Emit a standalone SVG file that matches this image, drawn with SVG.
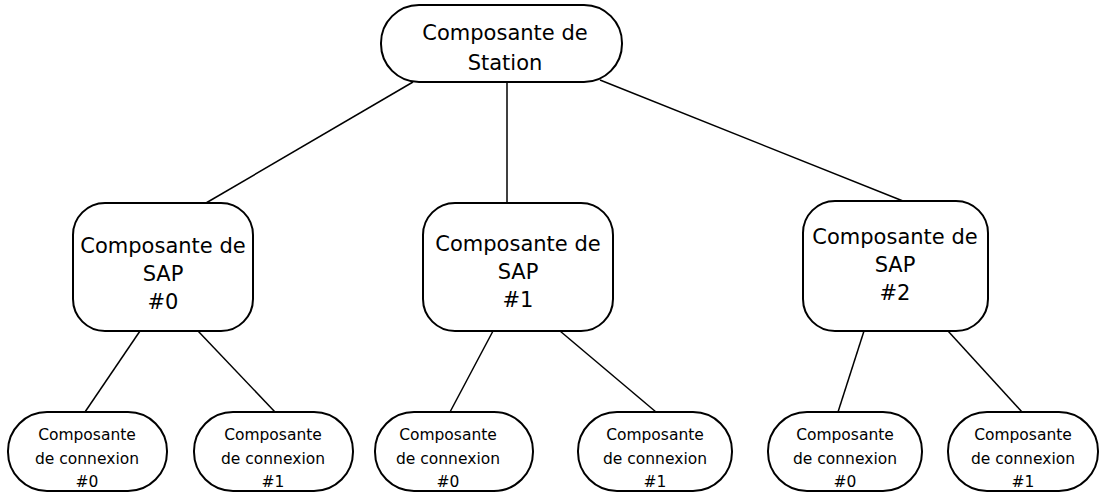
<svg xmlns="http://www.w3.org/2000/svg" width="1101" height="493" viewBox="0 0 1101 493">
  <style>
    .box { fill: #ffffff; stroke: #000000; stroke-width: 2; }
    .lbl { font-family: "DejaVu Sans", "Liberation Sans", sans-serif; fill: #000000; text-anchor: middle; }
    .big { font-size: 21px; }
    .small { font-size: 15.5px; }
    .edge { stroke: #000000; stroke-width: 1.5; fill: none; }
  </style>
  <rect width="1101" height="493" fill="#ffffff"/>

  <!-- connectors -->
  <g id="connectors">
    <line class="edge" x1="413" y1="82" x2="206" y2="203"/>
    <line class="edge" x1="507" y1="82" x2="507" y2="203"/>
    <line class="edge" x1="600" y1="80" x2="903" y2="201"/>
    <line class="edge" x1="140" y1="331" x2="85" y2="412"/>
    <line class="edge" x1="198" y1="331" x2="275" y2="412"/>
    <line class="edge" x1="493" y1="331" x2="450" y2="412"/>
    <line class="edge" x1="560" y1="331" x2="656" y2="412"/>
    <line class="edge" x1="864" y1="331" x2="838" y2="412"/>
    <line class="edge" x1="948" y1="331" x2="1022" y2="412"/>
  </g>

  <!-- root -->
  <g id="station">
    <rect class="box" x="381" y="5" width="241" height="77" rx="38"/>
    <text class="lbl big" x="505" y="40">Composante de</text>
    <text class="lbl big" x="505" y="70">Station</text>
  </g>

  <!-- SAP level -->
  <g id="sap0">
    <rect class="box" x="73" y="203" width="180" height="128" rx="32"/>
    <text class="lbl big" x="163" y="253">Composante de</text>
    <text class="lbl big" x="163" y="281">SAP</text>
    <text class="lbl big" x="163" y="309">#0</text>
  </g>
  <g id="sap1">
    <rect class="box" x="423" y="203" width="190" height="128" rx="32"/>
    <text class="lbl big" x="518" y="251">Composante de</text>
    <text class="lbl big" x="518" y="279">SAP</text>
    <text class="lbl big" x="518" y="307">#1</text>
  </g>
  <g id="sap2">
    <rect class="box" x="803" y="201" width="185" height="130" rx="32"/>
    <text class="lbl big" x="895" y="244">Composante de</text>
    <text class="lbl big" x="895" y="272">SAP</text>
    <text class="lbl big" x="895" y="300">#2</text>
  </g>

  <!-- connection level -->
  <g id="conn00">
    <rect class="box" x="8" y="412" width="159" height="79" rx="39"/>
    <text class="lbl small" x="87" y="440">Composante</text>
    <text class="lbl small" x="87" y="464">de connexion</text>
    <text class="lbl small" x="87" y="487">#0</text>
  </g>
  <g id="conn01">
    <rect class="box" x="194" y="412" width="159" height="79" rx="39"/>
    <text class="lbl small" x="273" y="440">Composante</text>
    <text class="lbl small" x="273" y="464">de connexion</text>
    <text class="lbl small" x="273" y="487">#1</text>
  </g>
  <g id="conn10">
    <rect class="box" x="375" y="412" width="158" height="79" rx="39"/>
    <text class="lbl small" x="448" y="440">Composante</text>
    <text class="lbl small" x="448" y="464">de connexion</text>
    <text class="lbl small" x="448" y="487">#0</text>
  </g>
  <g id="conn11">
    <rect class="box" x="578" y="412" width="154" height="79" rx="39"/>
    <text class="lbl small" x="655" y="440">Composante</text>
    <text class="lbl small" x="655" y="464">de connexion</text>
    <text class="lbl small" x="655" y="487">#1</text>
  </g>
  <g id="conn20">
    <rect class="box" x="768" y="412" width="154" height="79" rx="39"/>
    <text class="lbl small" x="845" y="440">Composante</text>
    <text class="lbl small" x="845" y="464">de connexion</text>
    <text class="lbl small" x="845" y="487">#0</text>
  </g>
  <g id="conn21">
    <rect class="box" x="948" y="412" width="150" height="79" rx="39"/>
    <text class="lbl small" x="1023" y="440">Composante</text>
    <text class="lbl small" x="1023" y="464">de connexion</text>
    <text class="lbl small" x="1023" y="487">#1</text>
  </g>
</svg>
